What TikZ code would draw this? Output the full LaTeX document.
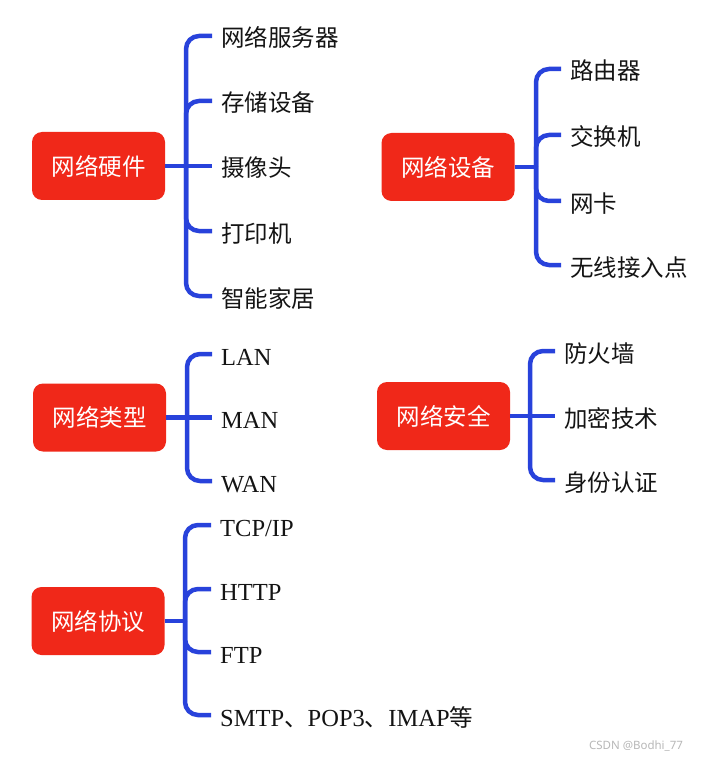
\documentclass[tikz,border=0pt]{standalone}
\usepackage{fontspec}
\setmainfont{Liberation Serif}
\newfontfamily\cjk{Noto Sans CJK SC}
\newfontfamily\wmfont{Noto Sans}
\definecolor{boxred}{RGB}{240,40,25}
\definecolor{linkblue}{RGB}{40,66,219}
\definecolor{leaftext}{RGB}{20,20,20}
\newcommand{\cjkt}{\cjk\fontsize{23.5}{28}\selectfont}
\begin{document}
\begin{tikzpicture}[x=1pt,y=-1pt,
  topic/.style={fill=boxred, rounded corners=10pt, minimum width=133pt, minimum height=68pt,
    text=white, font=\cjk\fontsize{23.5}{28}\selectfont, inner sep=0pt},
  leaf/.style={anchor=west, inner xsep=9pt, inner ysep=0pt, text height=22pt, text depth=0pt,
    font=\fontsize{24.5}{28}\selectfont, text=leaftext},
  link/.style={draw=linkblue, line width=4.5pt, rounded corners=13pt}
]
\useasboundingbox (0,0) rectangle (702,759);
\fill[white] (0,0) rectangle (702,759);

% group 1
\node[topic] (t1) at (98.5,166) {网络硬件};
\coordinate (h1) at (186,166);
\node[leaf] (a1) at (212,36) {\cjkt 网络服务器};
\node[leaf] (a2) at (212,101) {\cjkt 存储设备};
\node[leaf] (a3) at (212,166) {\cjkt 摄像头};
\node[leaf] (a4) at (212,231) {\cjkt 打印机};
\node[leaf] (a5) at (212,296) {\cjkt 智能家居};
\draw[link] (t1.east) -- (h1) -- (a3.west);
\foreach \n in {a1,a2,a4,a5} \draw[link] (h1) |- (\n.west);

% group 2
\node[topic] (t2) at (448,167) {网络设备};
\coordinate (h2) at (536,167);
\node[leaf] (b1) at (561,69) {\cjkt 路由器};
\node[leaf] (b2) at (561,135) {\cjkt 交换机};
\node[leaf] (b3) at (561,201) {\cjkt 网卡};
\node[leaf] (b4) at (561,265) {\cjkt 无线接入点};
\draw[link] (t2.east) -- (h2);
\foreach \n in {b1,b2,b3,b4} \draw[link] (h2) |- (\n.west);

% group 3
\node[topic] (t3) at (99.5,417.5) {网络类型};
\coordinate (h3) at (187,417.5);
\node[leaf] (c1) at (212,354) {LAN};
\node[leaf] (c2) at (212,417.5) {MAN};
\node[leaf] (c3) at (212,481) {WAN};
\draw[link] (t3.east) -- (h3) -- (c2.west);
\foreach \n in {c1,c3} \draw[link] (h3) |- (\n.west);

% group 4
\node[topic] (t4) at (443.5,416) {网络安全};
\coordinate (h4) at (530,416);
\node[leaf] (d1) at (555,351) {\cjkt 防火墙};
\node[leaf] (d2) at (555,416) {\cjkt 加密技术};
\node[leaf] (d3) at (555,480) {\cjkt 身份认证};
\draw[link] (t4.east) -- (h4) -- (d2.west);
\foreach \n in {d1,d3} \draw[link] (h4) |- (\n.west);

% group 5
\node[topic] (t5) at (98,621) {网络协议};
\coordinate (h5) at (185,621);
\node[leaf] (e1) at (211,525) {TCP/IP};
\node[leaf] (e2) at (211,589) {HTTP};
\node[leaf] (e3) at (211,652) {FTP};
\node[leaf] (e4) at (211,715) {SMTP{\cjkt 、}POP3{\cjkt 、}IMAP{\cjkt 等}};
\draw[link] (t5.east) -- (h5);
\foreach \n in {e1,e2,e3,e4} \draw[link] (h5) |- (\n.west);

\node[font=\wmfont\fontsize{11.5}{13}\selectfont, text=black!28] (wm) at (636,746) {CSDN @Bodhi\_77};
\end{tikzpicture}
\end{document}
